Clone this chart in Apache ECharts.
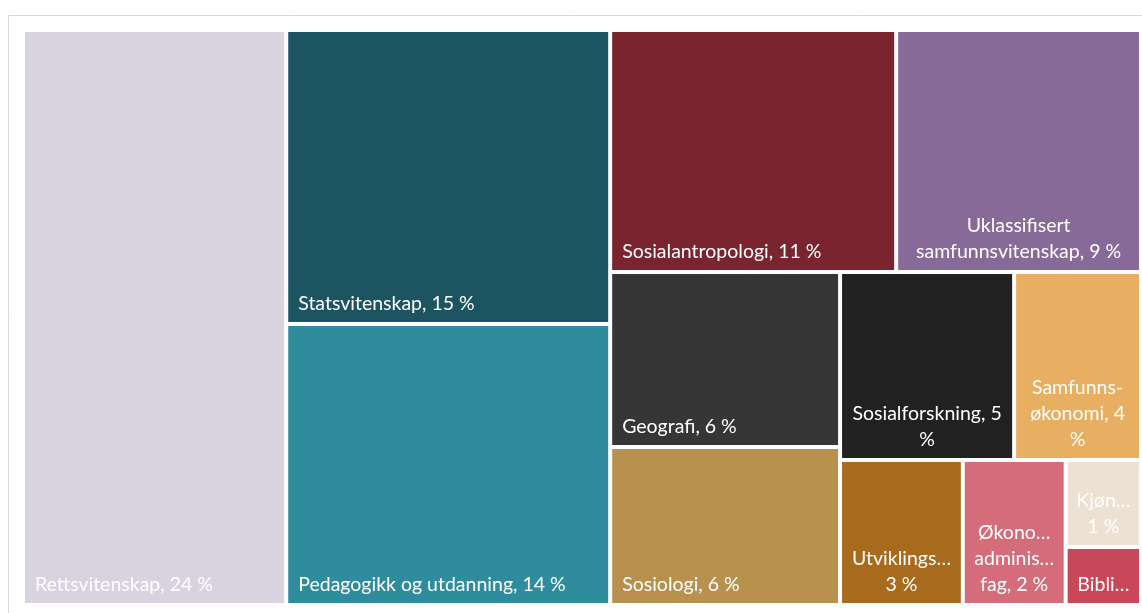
<!DOCTYPE html>
<html>
<head>
<meta charset="utf-8">
<script src="https://cdn.jsdelivr.net/npm/echarts@6/dist/echarts.min.js"></script>
<style>
  html, body { margin: 0; padding: 0; background: #ffffff; }
  #chart { width: 1142px; height: 613px; }
</style>
</head>
<body>
<div id="chart"></div>
<script>
// Share of publications per discipline (percent of total)
const categories = [
  'Rettsvitenskap',
  'Statsvitenskap',
  'Pedagogikk og utdanning',
  'Sosialantropologi',
  'Uklassifisert samfunnsvitenskap',
  'Geografi',
  'Sosiologi',
  'Sosialforskning',
  'Samfunnsøkonomi',
  'Utviklingsstudier',
  'Økonomisk-administrative fag',
  'Kjønnsforskning',
  'Bibliotek- og informasjonsvitenskap'
];

const shares = [23.55, 14.82, 14.16, 10.77, 9.22, 6.26, 5.65, 5.09, 3.71, 2.77, 2.32, 1.02, 0.68];

const colors = [
  '#d9d2df', '#1d5461', '#2e8c9d', '#7a2430', '#876a98', '#363636', '#b8914f',
  '#212121', '#e8ae62', '#a86a1c', '#d46c7a', '#ede1d3', '#c8485a'
];

// Wrapped / shortened label lines for the narrow cells; {p} becomes the rounded share.
const labelLines = [
  null, null, null, null,
  ['Uklassifisert', 'samfunnsvitenskap, {p} %'],
  null, null,
  ['Sosialforskning, {p}', '%'],
  ['Samfunns-', 'økonomi, {p}', '%'],
  ['Utviklings…', '{p} %'],
  ['Økono…', 'adminis…', 'fag, {p} %'],
  ['Kjøn…', '{p} %'],
  ['Bibli…']
];

const total = shares.reduce((a, b) => a + b, 0);
const FONT = 'Lato, "Open Sans", sans-serif';

// Wrapped labels are centred in their cell, single-line ones sit bottom-left.
const treeData = categories.map((name, i) => {
  const item = { name: name, value: shares[i], itemStyle: { color: colors[i] } };
  if (labelLines[i]) {
    item.label = { position: 'insideBottom', padding: [0, 0, 5, 0] };
  }
  return item;
});

const chart = echarts.init(document.getElementById('chart'), null, { renderer: 'canvas' });

chart.setOption({
  animation: false,
  graphic: [{
    type: 'rect',
    silent: true,
    z: -10,
    shape: { x: 8.5, y: 15.5, width: 1200, height: 700 },
    style: { fill: 'none', stroke: '#d9d9d9', lineWidth: 1 }
  }],
  series: [{
    type: 'treemap',
    left: 25,
    top: 32,
    width: 1114,
    height: 571,
    roam: false,
    nodeClick: false,
    squareRatio: 0.85,
    breadcrumb: { show: false },
    emphasis: { disabled: true },
    itemStyle: { borderWidth: 0, gapWidth: 4, borderColor: '#ffffff' },
    levels: [{ itemStyle: { borderWidth: 0, gapWidth: 4, borderColor: '#ffffff' } }],
    label: {
      show: true,
      position: 'insideBottomLeft',
      distance: 0,
      padding: [0, 0, 5, 10],
      color: '#ffffff',
      fontFamily: FONT,
      fontSize: 19.5,
      lineHeight: 26,
      textBorderWidth: 0,
      overflow: 'none',
      formatter: function (p) {
        const i = categories.indexOf(p.name);
        const pct = Math.round(p.value / total * 100);
        const lines = labelLines[i];
        if (!lines) return p.name + ', ' + pct + ' %';
        return lines.map(l => l.replace('{p}', pct)).join('\n');
      }
    },
    upperLabel: { show: false },
    data: treeData
  }]
});
</script>
</body>
</html>
